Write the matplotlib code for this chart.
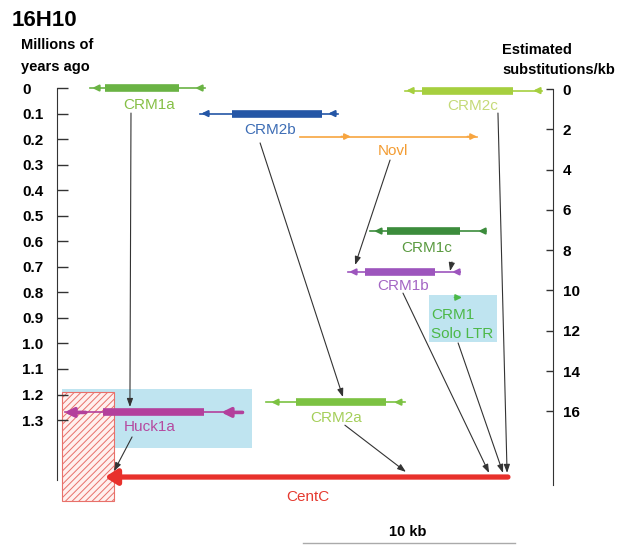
import matplotlib
matplotlib.use("Agg")
from matplotlib import pyplot as plt
from matplotlib.patches import Rectangle

plt.rcParams['font.family'] = ['Liberation Sans', 'DejaVu Sans']

W, H = 633, 546

# Retroelements on clone 16H10: x = position along the clone (kb), y = insertion age (Mya)
names = ["CRM1a", "CRM2b", "Novl", "CRM2c", "CRM1c", "CRM1b", "CRM2a", "Huck1a"]
ages = [0.0, 0.10, 0.19, 0.01, 0.56, 0.72, 1.23, 1.27]
line_start = [1.56, 6.75, 11.46, 16.42, 14.76, 13.73, 9.86, 0.38]
line_end = [6.98, 13.25, 19.81, 22.88, 20.19, 19.0, 16.42, 8.77]
bar_start = [2.26, 8.25, None, 17.22, 15.57, 14.53, 11.27, 2.17]
bar_end = [5.75, 12.5, None, 21.51, 19.0, 17.83, 15.52, 6.93]
ltr_left = [1.84, 6.98, 13.63, 16.65, 15.14, 13.96, 10.28, 0.85]
ltr_right = [6.70, 12.97, 19.58, 22.64, 20.05, 18.82, 16.08, 8.25]
ltr_dir = [-1, -1, 1, -1, -1, -1, -1, -1]
ltr_len = [0.35, 0.35, 0.45, 0.35, 0.35, 0.35, 0.35, 1.0]
ltr_lw = [1.5, 1.5, 1.2, 1.5, 1.5, 1.5, 1.5, 2.6]
colors = ["#6ab344", "#2456a6", "#f7a540", "#a6cf3f", "#3c8c3c", "#9d55bd", "#7cc242", "#b3409c"]
label_colors = ["#86c046", "#3d6db5", "#f39c32", "#c5da78", "#5a9a40", "#a466c4", "#a5cf5a", "#b54aa0"]
label_x = [4.34, 10.05, 15.85, 19.62, 17.45, 16.32, 13.16, 4.39]
label_y = [0.067, 0.164, 0.247, 0.070, 0.626, 0.775, 1.292, 1.327]

# solo LTR and the CentC array
solo_x = [18.75, 19.1]
solo_age = 0.82
centc_x = [21.27, 2.26]
centc_age = 1.523

# which element points at which (x0, y0, x1, y1)
pointers = [
    (3.49, 0.098, 3.44, 1.249),
    (9.58, 0.215, 13.49, 1.21),
    (15.71, 0.282, 14.06, 0.693),
    (18.63, 0.681, 18.54, 0.717),
    (16.32, 0.803, 20.38, 1.507),
    (18.92, 0.998, 21.04, 1.507),
    (20.8, 0.098, 21.23, 1.507),
    (13.58, 1.32, 16.46, 1.503),
    (3.54, 1.366, 2.69, 1.50),
]

mya_ticks = [0, 0.1, 0.2, 0.3, 0.4, 0.5, 0.6, 0.7, 0.8, 0.9, 1.0, 1.1, 1.2, 1.3]
mya_labels = ["0", "0.1", "0.2", "0.3", "0.4", "0.5", "0.6", "0.7", "0.8", "0.9",
              "1.0", "1.1", "1.2", "1.3"]
sub_ticks = [0, 2, 4, 6, 8, 10, 12, 14, 16]
subs_per_mya = 12.68
mya_offset = 0.004


def px(x, y):
    return x / W, 1 - y / H


fig = plt.figure(figsize=(W / 100, H / 100), dpi=100)
ax = fig.add_axes([57 / W, 0, 496 / W, 1])
ax.set_xlim(0, 496 / 21.2)
ax.set_ylim(1.793, -0.3446)

# highlighted regions
ax.add_patch(Rectangle((0.24, 1.18), 8.96, 0.231, facecolor="#bfe4f0", lw=0, zorder=0))
ax.add_patch(Rectangle((17.55, 0.81), 3.2, 0.185, facecolor="#bfe4f0", lw=0, zorder=0))
plt.rcParams['hatch.linewidth'] = 0.7
ax.add_patch(Rectangle((0.24, 1.19), 2.45, 0.427, facecolor="#fff0ee",
                       edgecolor="#e8706a", hatch="/////", lw=0.8, zorder=1))

for i, name in enumerate(names):
    a = ages[i]
    ax.plot([line_start[i], line_end[i]], [a, a], color=colors[i], lw=1.2, zorder=3)
    if bar_start[i] is not None:
        ax.plot([bar_start[i], bar_end[i]], [a, a], color=colors[i], lw=5.5,
                solid_capstyle="butt", zorder=3)
    for xc in (ltr_left[i], ltr_right[i]):
        d = ltr_dir[i] * ltr_len[i] / 2
        ax.annotate("", xy=(xc + d, a), xytext=(xc - d, a),
                    arrowprops=dict(arrowstyle="-|>,head_length=0.6,head_width=0.3",
                                    mutation_scale=6 if ltr_lw[i] < 2 else 9,
                                    lw=ltr_lw[i], color=colors[i],
                                    shrinkA=0, shrinkB=0), zorder=4)
    ax.text(label_x[i], label_y[i], name, color=label_colors[i], fontsize=11,
            ha="center", va="center", zorder=5)

# solo LTR
ax.annotate("", xy=(solo_x[1], solo_age), xytext=(solo_x[0], solo_age),
            arrowprops=dict(arrowstyle="-|>,head_length=0.6,head_width=0.3",
                            mutation_scale=6, lw=1.2, color="#4cb848",
                            shrinkA=0, shrinkB=0))
ax.text(17.64, 0.889, "CRM1", color="#4cb848", fontsize=11, ha="left", va="center")
ax.text(17.64, 0.963, "Solo LTR", color="#4cb848", fontsize=11, ha="left", va="center")

# CentC array
ax.annotate("", xy=(centc_x[1], centc_age), xytext=(centc_x[0], centc_age),
            arrowprops=dict(arrowstyle="-|>,head_length=0.7,head_width=0.45",
                            mutation_scale=10, lw=3.8, color="#e8312c",
                            shrinkA=0, shrinkB=0), zorder=3)
ax.text(11.84, 1.601, "CentC", color="#e53a30", fontsize=11, ha="center", va="center")

for x0, y0, x1, y1 in pointers:
    ax.annotate("", xy=(x1, y1), xytext=(x0, y0),
                arrowprops=dict(arrowstyle="-|>,head_length=0.5,head_width=0.18",
                                mutation_scale=10, lw=0.8, color="#333333",
                                shrinkA=0, shrinkB=0), zorder=6)

# scale bar
ax.plot([11.6, 21.6], [1.781, 1.781], color="#aaaaaa", lw=1)
ax.text(16.56, 1.74, "10 kb", fontsize=10.5, fontweight="bold", ha="center", va="center")

# left axis: age
for s in ["top", "right", "bottom"]:
    ax.spines[s].set_visible(False)
ax.spines["left"].set_bounds(0, 1.535)
ax.spines["left"].set_color("#333333")
ax.set_xticks([])
ax.set_yticks(mya_ticks)
ax.set_yticklabels(mya_labels, ha="left", fontweight="bold")
ax.tick_params(axis="y", direction="in", length=8, width=1, color="#333333",
               pad=25.2, labelsize=11)

# right axis: substitutions
ax2 = ax.twinx()
ax2.set_ylim((1.793 - mya_offset) * subs_per_mya, (-0.3446 - mya_offset) * subs_per_mya)
for s in ["top", "left", "bottom"]:
    ax2.spines[s].set_visible(False)
ax2.spines["right"].set_bounds(0, 19.66)
ax2.spines["right"].set_color("#333333")
ax2.set_yticks(sub_ticks)
ax2.set_yticklabels([str(t) for t in sub_ticks], fontweight="bold")
ax2.tick_params(axis="y", direction="in", length=5, width=1, color="#333333",
                pad=7, labelsize=11)

fig.text(*px(12, 20), "16H10", fontsize=16, fontweight="bold", va="center")
fig.text(*px(21, 45), "Millions of", fontsize=10.5, fontweight="bold", va="center")
fig.text(*px(21, 67), "years ago", fontsize=10.5, fontweight="bold", va="center")
fig.text(*px(502, 50), "Estimated", fontsize=10.5, fontweight="bold", va="center")
fig.text(*px(502, 70), "substitutions/kb", fontsize=10.5, fontweight="bold", va="center")

fig.savefig("out.png", dpi=100)
